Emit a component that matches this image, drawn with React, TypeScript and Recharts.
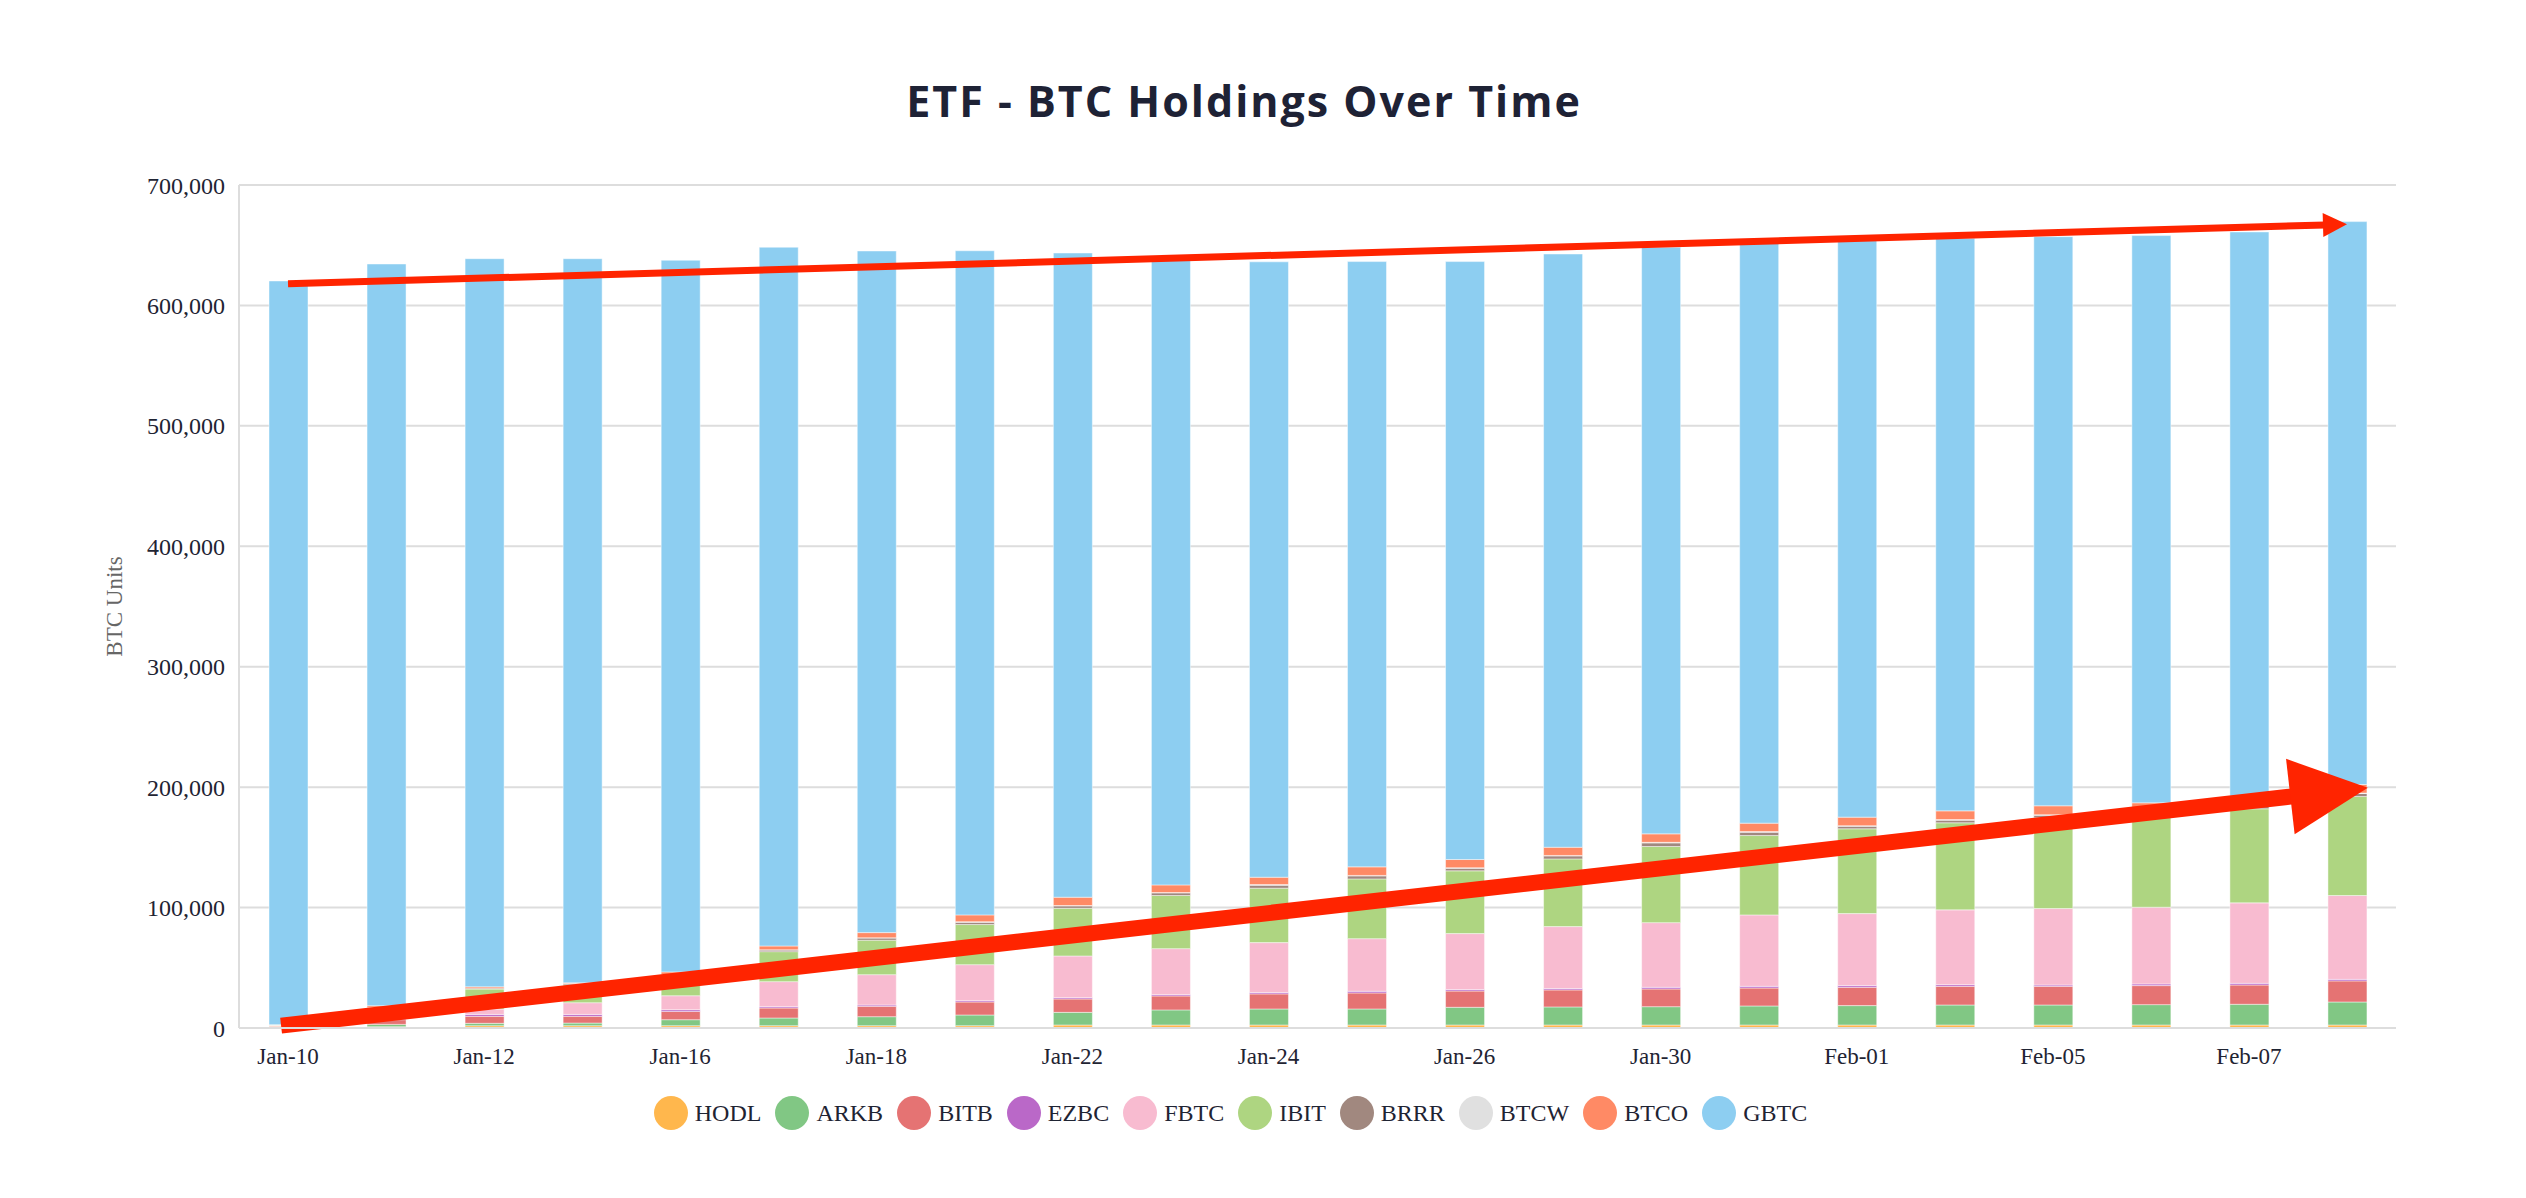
import React from "react"
import {
  BarChart,
  Bar,
  XAxis,
  YAxis,
  CartesianGrid,
  Legend,
  ReferenceLine,
} from "recharts"

const dates = [
  "Jan-10", "Jan-11", "Jan-12", "Jan-15", "Jan-16", "Jan-17", "Jan-18", "Jan-19",
  "Jan-22", "Jan-23", "Jan-24", "Jan-25", "Jan-26", "Jan-29", "Jan-30", "Jan-31",
  "Feb-01", "Feb-02", "Feb-05", "Feb-06", "Feb-07", "Feb-08",
]

const hodl = [1200, 1100, 1900, 1900, 1900, 1900, 1900, 1900, 2500, 2500, 2500, 2500, 2500, 2500, 2500, 2500, 2500, 2500, 2500, 2500, 2500, 2500]
const arkb = [0, 1900, 2000, 2200, 5000, 6400, 7500, 8900, 10500, 12500, 13300, 13300, 14700, 15000, 15200, 15800, 16100, 16600, 16600, 16900, 17200, 19100]
const bitb = [600, 3900, 5800, 5600, 6900, 8300, 8600, 10800, 11100, 11600, 12500, 13300, 13500, 14100, 14700, 14900, 15200, 15500, 15500, 15800, 16000, 17500]
const ezbc = [0, 1000, 1600, 1600, 1400, 1100, 1100, 1100, 1100, 1100, 1100, 1400, 1200, 1100, 1400, 1400, 1400, 1400, 1100, 1400, 1400, 1300]
const fbtc = [500, 4000, 4400, 9700, 11600, 20800, 25200, 29900, 34600, 38200, 41500, 43700, 46500, 51500, 53700, 59300, 59800, 62100, 63500, 63700, 66800, 69600]
const ibit = [200, 5000, 16600, 14900, 16500, 24900, 28600, 33300, 39600, 44100, 45200, 49600, 52100, 56200, 63200, 65900, 70400, 72300, 75300, 75600, 78100, 82200]
const brrr = [0, 0, 800, 1000, 1100, 1400, 1900, 1900, 2000, 2200, 2500, 2500, 2200, 2500, 3000, 2800, 2200, 2200, 2200, 2200, 2200, 2500]
const btcw = [0, 0, 0, 0, 0, 100, 100, 500, 300, 300, 500, 400, 400, 400, 500, 500, 400, 500, 400, 400, 400, 400]
const btco = [300, 1600, 1100, 600, 2200, 3200, 4300, 5600, 6900, 6300, 6100, 7100, 6800, 6800, 7000, 7000, 7100, 7200, 7400, 8500, 7900, 7100]
const gbtc = [617500, 615900, 604600, 601300, 590900, 580200, 566000, 551500, 534900, 522200, 511000, 502600, 496500, 492600, 487100, 481700, 478700, 475400, 472600, 471000, 468500, 467400]

const yTicks = [0, 100000, 200000, 300000, 400000, 500000, 600000, 700000]

// hand-drawn trend arrows, in data units
const topTrend = [{ x: "Jan-10", y: 618000 }, { x: "Feb-08", y: 667400 }]
const bottomTrend = [{ x: "Jan-10", y: 2600 }, { x: "Feb-08", y: 197500 }]

const series = [
  { key: "HODL", values: hodl, color: "#FFB74D" },
  { key: "ARKB", values: arkb, color: "#81C784" },
  { key: "BITB", values: bitb, color: "#E57373" },
  { key: "EZBC", values: ezbc, color: "#BA68C8" },
  { key: "FBTC", values: fbtc, color: "#F8BBD0" },
  { key: "IBIT", values: ibit, color: "#AED581" },
  { key: "BRRR", values: brrr, color: "#A1887F" },
  { key: "BTCW", values: btcw, color: "#E0E0E0" },
  { key: "BTCO", values: btco, color: "#FF8A65" },
  { key: "GBTC", values: gbtc, color: "#8DCEF1" },
]

const data = dates.map((d, i) => {
  const row: Record<string, any> = { date: d }
  series.forEach((s) => { row[s.key] = s.values[i] })
  return row
})

const SERIF = '"Liberation Serif", "Times New Roman", serif'
const ARROW = "#FF2400"

function arrowShape(width: number, headLen: number, headWidth: number, extStart: number, extEnd: number) {
  return (props: any) => {
    const { x1, y1, x2, y2 } = props
    const dx = x2 - x1
    const dy = y2 - y1
    const len = Math.hypot(dx, dy) || 1
    const ux = dx / len
    const uy = dy / len
    const sx = x1 - ux * extStart
    const sy = y1 - uy * extStart
    const tx = x2 + ux * extEnd
    const ty = y2 + uy * extEnd
    const bx = tx - ux * headLen
    const by = ty - uy * headLen
    const px = -uy * headWidth / 2
    const py = ux * headWidth / 2
    return (
      <g>
        <line x1={sx} y1={sy} x2={bx + ux * 2} y2={by + uy * 2} stroke={ARROW} strokeWidth={width} />
        <polygon points={`${tx},${ty} ${bx + px},${by + py} ${bx - px},${by - py}`} fill={ARROW} />
      </g>
    )
  }
}

const YTitle = (props: any) => {
  const vb = props.viewBox || { x: 0, y: 0, width: 0, height: 0 }
  const cx = vb.x + 25
  const cy = vb.y + vb.height / 2
  return (
    <text
      x={cx}
      y={cy}
      transform={`rotate(-90 ${cx} ${cy})`}
      textAnchor="middle"
      dominantBaseline="central"
      fontFamily={SERIF}
      fontSize={23}
      fill="#666"
    >
      BTC Units
    </text>
  )
}

const LegendRow = () => (
  <div
    style={{
      height: 50,
      display: "flex",
      justifyContent: "center",
      alignItems: "center",
      gap: 14,
      paddingRight: 24,
      fontFamily: SERIF,
      fontSize: 24,
      color: "#1f2433",
    }}
  >
    {series.map((s) => (
      <div key={s.key} style={{ display: "flex", alignItems: "center" }}>
        <span style={{ width: 34, height: 34, borderRadius: "50%", background: s.color, display: "inline-block", marginRight: 7 }} />
        <span>{s.key}</span>
      </div>
    ))}
  </div>
)

export default function App() {
  return (
    <div style={{ position: "relative", width: 2510, height: 1182, background: "#fff" }}>
      <div
        style={{
          position: "absolute",
          top: 71,
          left: 0,
          width: 2510,
          paddingRight: 38,
          boxSizing: "border-box",
          textAlign: "center",
          fontFamily: "'Open Sans', Lato, sans-serif",
          fontWeight: 700,
          fontSize: 43,
          letterSpacing: 2,
          lineHeight: "43px",
          color: "#1e2235",
        }}
      >
        ETF - BTC Holdings Over Time
      </div>
      <BarChart
        width={2510}
        height={1182}
        data={data}
        margin={{ top: 177, right: 122, bottom: 52, left: 81 }}
      >
        <CartesianGrid vertical={false} stroke="#dddddd" strokeWidth={2} />
        <XAxis
          dataKey="date"
          interval={1}
          tickLine={false}
          tickSize={0}
          tickMargin={20}
          height={60}
          axisLine={{ stroke: "#dddddd", strokeWidth: 2 }}
          tick={{ fontFamily: SERIF, fontSize: 23, fill: "#1f2433" }}
        />
        <YAxis
          width={150}
          domain={[0, 700000]}
          ticks={yTicks}
          tickLine={false}
          tickSize={0}
          tickMargin={14}
          axisLine={{ stroke: "#dddddd", strokeWidth: 2 }}
          tickFormatter={(v: number) => v.toLocaleString("en-US")}
          tick={{ fontFamily: SERIF, fontSize: 24, fill: "#1f2433" }}
          label={<YTitle />}
        />
        <Legend verticalAlign="bottom" content={<LegendRow />} />
        {series.map((s) => (
          <Bar
            key={s.key}
            dataKey={s.key}
            stackId="etf"
            fill={s.color}
            barSize={39}
            stroke="#ffffff"
            strokeOpacity={0.45}
            strokeWidth={1}
            isAnimationActive={false}
          />
        ))}
        <ReferenceLine segment={topTrend} ifOverflow="visible" shape={arrowShape(7, 24, 24, 0, 0)} />
        <ReferenceLine segment={bottomTrend} ifOverflow="visible" shape={arrowShape(16, 78, 76, 7, 21)} />
      </BarChart>
    </div>
  )
}
